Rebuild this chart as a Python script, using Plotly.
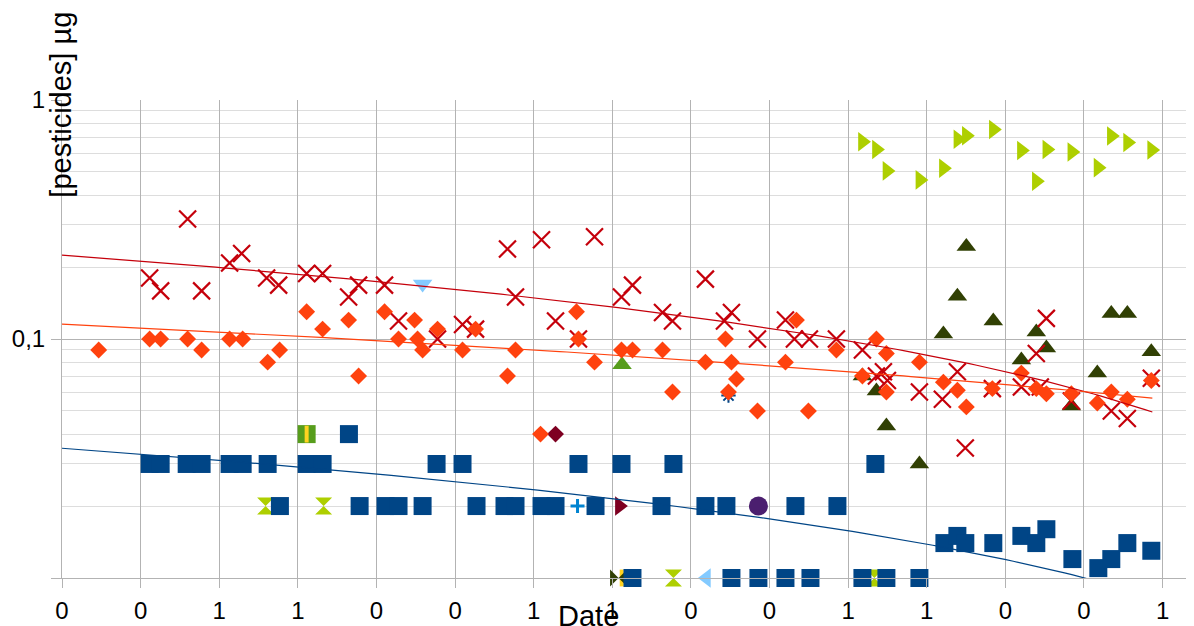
import numpy as np
import plotly.graph_objects as go

# ---------------- data ----------------
x_tick_vals = list(range(15))
x_tick_text = ["0", "0", "1", "1", "0", "0", "1", "1", "0", "0", "1", "1", "0", "0", "1"]

# series 1 : blue squares
blue_x = [1.115, 1.255, 1.586, 1.776, 2.132, 2.298, 2.616, 3.112, 3.315, 4.765, 5.095, 6.570, 7.117, 7.778, 10.347,
          3.650,
          2.772, 3.786, 4.116, 4.281, 4.587, 5.273, 5.629, 5.769, 6.100, 6.278, 6.787, 7.626, 8.185, 8.452, 9.330, 9.864,
          7.257, 8.516, 8.859, 9.203, 9.521, 10.182, 10.487, 10.907,
          11.225, 11.390, 11.491, 11.847, 12.204, 12.394, 12.522, 12.853, 13.183, 13.348, 13.552, 13.857]
blue_y = [0.03] * 15 + [0.04] + [0.02] * 16 + [0.01] * 8 + \
         [0.014, 0.015, 0.014, 0.014, 0.015, 0.014, 0.016, 0.012, 0.011, 0.012, 0.014, 0.013]

# series 2 : orange diamonds
orange_x = [0.467, 1.115, 1.255, 1.598, 1.776, 2.132, 2.298, 2.616, 2.768, 3.112, 3.315, 3.646, 3.773, 4.103,
            4.281, 4.485, 4.523, 4.587, 4.777, 5.095, 5.261, 5.667, 5.769, 6.087, 6.545, 6.570, 6.774, 7.117,
            7.257, 7.639, 7.766, 8.185, 8.440, 8.478, 8.516, 8.580, 8.847, 9.203, 9.343, 9.495, 9.851, 10.182,
            10.360, 10.487, 10.487, 10.907, 11.212, 11.390, 11.504, 11.835, 12.204, 12.394, 12.522, 12.840,
            13.170, 13.348, 13.552, 13.857]
orange_y = [0.09, 0.1, 0.1, 0.1, 0.09, 0.1, 0.1, 0.08, 0.09, 0.13, 0.11, 0.12, 0.07, 0.13,
            0.1, 0.12, 0.1, 0.09, 0.11, 0.09, 0.11, 0.07, 0.09, 0.04, 0.13, 0.1, 0.08, 0.09,
            0.09, 0.09, 0.06, 0.08, 0.1, 0.06, 0.08, 0.068, 0.05, 0.08, 0.12, 0.05, 0.09, 0.07,
            0.1, 0.087, 0.06, 0.08, 0.066, 0.061, 0.052, 0.062, 0.072, 0.062, 0.059, 0.059,
            0.054, 0.06, 0.056, 0.067]

# series 11 : red crosses
red_x = [1.115, 1.255, 1.598, 1.776, 2.132, 2.285, 2.603, 2.756, 3.112, 3.315, 3.646, 3.773, 4.103, 4.281,
         4.777, 5.095, 5.261, 5.667, 5.769, 6.100, 6.278, 6.570, 6.774, 7.117, 7.257, 7.639, 7.766, 8.185,
         8.427, 8.516, 8.847, 9.203, 9.317, 9.508, 9.851, 10.182, 10.360, 10.449, 10.500, 10.907, 11.199,
         11.390, 11.491, 11.835, 12.204, 12.394, 12.445, 12.522, 12.840, 13.348, 13.552, 13.857]
red_y = [0.18, 0.159, 0.318, 0.159, 0.208, 0.228, 0.18, 0.168, 0.188, 0.188, 0.15, 0.168, 0.168, 0.119,
         0.1, 0.115, 0.11, 0.238, 0.15, 0.26, 0.119, 0.1, 0.268, 0.15, 0.168, 0.129, 0.119, 0.178,
         0.119, 0.129, 0.1, 0.12, 0.1, 0.1, 0.1, 0.09, 0.07, 0.073, 0.067, 0.06, 0.056,
         0.073, 0.035, 0.062, 0.063, 0.087, 0.063, 0.122, 0.055, 0.05, 0.0465, 0.0685]

# series 19 : dark olive up-triangles
olive_x = [10.182, 10.360, 10.487, 10.907, 11.212, 11.390, 11.504, 11.847, 12.204, 12.394, 12.522, 12.840,
           13.170, 13.348, 13.552, 13.857]
olive_y = [0.07, 0.0606, 0.0432, 0.03, 0.105, 0.151, 0.244, 0.119, 0.0817, 0.107, 0.0916, 0.0524,
           0.072, 0.128, 0.128, 0.0885]

# series 20 : yellow-green right-triangles
lime_x = [10.182, 10.360, 10.494, 10.913, 11.212, 11.396, 11.504, 11.847, 12.204, 12.394, 12.528, 12.846,
          13.179, 13.348, 13.555, 13.861]
lime_y = [0.669, 0.621, 0.505, 0.463, 0.518, 0.685, 0.709, 0.753, 0.615, 0.457, 0.621, 0.606,
          0.521, 0.707, 0.664, 0.618]

# single-value series
hourglass_x = [2.590, 3.328, 7.778, 10.334]
hourglass_y = [0.02, 0.02, 0.01, 0.01]
plus_x, plus_y = [6.558], [0.02]
asterisk_x, asterisk_y = [8.478], [0.058]
lefttri_x, lefttri_y = [8.198], [0.01]
circle_x, circle_y = [8.859], [0.02]
maroon_tri_x, maroon_tri_y = [7.09], [0.02]
maroon_dia_x, maroon_dia_y = [6.278], [0.04]
green_tri_x, green_tri_y = [7.124], [0.078]
lightblue_down_x, lightblue_down_y = [4.587], [0.17]
green_sq_x, green_sq_y = [3.112], [0.04]
yellow_bar_x, yellow_bar_y = [3.112, 7.12], [0.04, 0.01]
bowtie_x, bowtie_y = [7.08], [0.01]

# linear trend lines as shown in the chart: (intercept at x=0, slope per unit, last x)
red_trend = (0.2244, -0.01261, 13.87)
orange_trend = (0.1155, -0.004247, 13.87)
blue_trend = (0.0349, -0.001913, 13.87)

# ---------------- figure ----------------
fig = go.Figure()


def add_markers(x, y, symbol, color, size, line_color=None, line_width=0):
    marker = dict(symbol=symbol, size=size, color=color,
                  line=dict(width=line_width, color=line_color or color))
    fig.add_trace(go.Scatter(x=x, y=y, mode="markers", marker=marker,
                             cliponaxis=False, showlegend=False, hoverinfo="x+y"))


# draw later series first so that the first series end up on top
add_markers(lime_x, lime_y, "triangle-right", "#AECF00", 17)
add_markers(olive_x, olive_y, "triangle-up", "#314004", 17)
add_markers(lightblue_down_x, lightblue_down_y, "triangle-down", "#83CAFF", 17)
add_markers(maroon_dia_x, maroon_dia_y, "diamond", "#7E0021", 13)
add_markers(green_sq_x, green_sq_y, "square", "#579D1C", 18)
add_markers(yellow_bar_x, yellow_bar_y, "line-ns", "#FFD320", 12, "#FFD320", 4)
add_markers(asterisk_x, asterisk_y, "asterisk", "#004586", 12, "#004586", 2)
add_markers(plus_x, plus_y, "cross-thin", "#0084D1", 10, "#0084D1", 3)
add_markers(red_x, red_y, "x-thin", "#C5000B", 17, "#C5000B", 2.2)
add_markers(circle_x, circle_y, "circle", "#4B1F6F", 19)
add_markers(hourglass_x, hourglass_y, "hourglass", "#AECF00", 17)
add_markers(bowtie_x, bowtie_y, "bowtie", "#314004", 17)
add_markers(lefttri_x, lefttri_y, "triangle-left", "#83CAFF", 17)
add_markers(maroon_tri_x, maroon_tri_y, "triangle-right", "#7E0021", 17)
add_markers(green_tri_x, green_tri_y, "triangle-up", "#579D1C", 17)
add_markers(orange_x, orange_y, "diamond", "#FF420E", 13)
add_markers(blue_x, blue_y, "square", "#004586", 18)


def add_trend(trend, color):
    a, b, x_end = trend
    xs = np.linspace(0, x_end, 150)
    ys = a + b * xs
    fig.add_trace(go.Scatter(x=xs, y=ys, mode="lines", line=dict(color=color, width=1.2),
                             showlegend=False, hoverinfo="skip"))


add_trend(red_trend, "#C5000B")
add_trend(orange_trend, "#FF420E")
add_trend(blue_trend, "#004586")

minor_vals = [m * 10.0 ** e for e in (-2, -1) for m in range(2, 10)]

# the html page has an 8px body margin, so the figure is sized to fit inside the window
fig.update_layout(
    width=1186, height=618,
    margin=dict(l=54, r=0, t=92, b=48, pad=0),
    paper_bgcolor="white", plot_bgcolor="white",
    font=dict(family="Liberation Sans, Arial, sans-serif", color="black"),
    xaxis=dict(range=[0, 14.4], tickmode="array", tickvals=x_tick_vals, ticktext=x_tick_text,
               ticks="outside", ticklen=9, tickcolor="#b3b3b3", showline=True, linecolor="#b3b3b3",
               showgrid=True, gridcolor="#b3b3b3", zeroline=False, tickfont=dict(size=24),
               ticklabelstandoff=2, automargin=False),
    yaxis=dict(type="log", range=[-2, 0], tickmode="array", tickvals=[0.01, 0.1, 1],
               ticktext=["", "0,1", "1"], ticks="outside", ticklen=10, tickcolor="#b3b3b3",
               showline=True, linecolor="#b3b3b3", showgrid=True, gridcolor="#b3b3b3",
               zeroline=False, tickfont=dict(size=24), ticklabelstandoff=1, automargin=False,
               minor=dict(tickmode="array", tickvals=minor_vals, showgrid=True,
                          gridcolor="#dddddd", ticks="")),
    annotations=[
        dict(text="[pesticides] µg", textangle=-90, xref="paper", yref="paper",
             x=-0.001, y=0.99, xanchor="center", yanchor="middle", showarrow=False,
             font=dict(size=29, color="black")),
        dict(text="Date", xref="paper", yref="paper", x=0.4655, y=-0.042,
             xanchor="center", yanchor="top", showarrow=False,
             font=dict(size=29, color="black")),
    ],
)

fig.write_html("out.html")
